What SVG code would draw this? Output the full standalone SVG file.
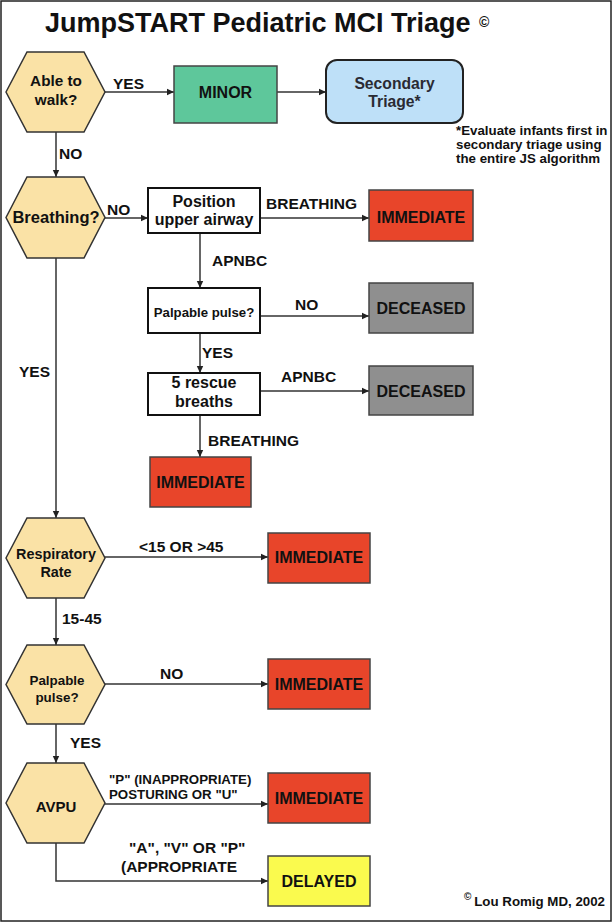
<svg xmlns="http://www.w3.org/2000/svg" width="613" height="923" viewBox="0 0 613 923">
<style>
text{font-family:"Liberation Sans",Arial,sans-serif;font-weight:bold;fill:#111;}
.c{text-anchor:middle;}
.hex{fill:#FAE2A6;stroke:#333;stroke-width:1.5;}
.box{stroke:#444;stroke-width:1.5;}
.wb{fill:#fff;stroke:#111;stroke-width:2;}
.red{fill:#E8452A;}
.gray{fill:#8F8F8F;}
.t16{font-size:16px;}
.lbl{font-size:15.5px;}
.ln{fill:none;stroke:#333;stroke-width:1.5;}
</style>
<defs>
<marker id="ah" markerWidth="8" markerHeight="8" refX="7" refY="4" orient="auto" markerUnits="userSpaceOnUse">
<path d="M0,0.8 L7,4 L0,7.2 Z" fill="#222"/>
</marker>
</defs>
<rect x="1" y="1" width="610" height="920" fill="#fff" stroke="#222" stroke-width="1.5"/>
<text x="45" y="32" style="font-size:27px">JumpSTART Pediatric MCI Triage</text>
<text x="479" y="27" style="font-size:14px">©</text>

<g id="connectors">
<line class="ln" x1="105" y1="92" x2="174" y2="92" marker-end="url(#ah)"/>
<line class="ln" x1="277" y1="92" x2="326" y2="92" marker-end="url(#ah)"/>
<line class="ln" x1="56" y1="132" x2="56" y2="177" marker-end="url(#ah)"/>
<line class="ln" x1="105" y1="218" x2="148" y2="218" marker-end="url(#ah)"/>
<line class="ln" x1="260" y1="218" x2="369" y2="218" marker-end="url(#ah)"/>
<line class="ln" x1="200" y1="233" x2="200" y2="288" marker-end="url(#ah)"/>
<line class="ln" x1="260" y1="316" x2="369" y2="316" marker-end="url(#ah)"/>
<line class="ln" x1="200" y1="333" x2="200" y2="373" marker-end="url(#ah)"/>
<line class="ln" x1="260" y1="391" x2="369" y2="391" marker-end="url(#ah)"/>
<line class="ln" x1="200" y1="415" x2="200" y2="457" marker-end="url(#ah)"/>
<line class="ln" x1="56" y1="258" x2="56" y2="518" marker-end="url(#ah)"/>
<line class="ln" x1="105" y1="557" x2="268" y2="557" marker-end="url(#ah)"/>
<line class="ln" x1="56" y1="598" x2="56" y2="645" marker-end="url(#ah)"/>
<line class="ln" x1="105" y1="684" x2="268" y2="684" marker-end="url(#ah)"/>
<line class="ln" x1="56" y1="724" x2="56" y2="763" marker-end="url(#ah)"/>
<line class="ln" x1="105" y1="804" x2="268" y2="804" marker-end="url(#ah)"/>
<polyline class="ln" points="56,843 56,881 268,881" marker-end="url(#ah)"/>
<text class="lbl" x="113" y="89">YES</text>
<text class="lbl" x="59" y="159">NO</text>
<text class="lbl" x="107" y="215">NO</text>
<text class="lbl" x="266" y="209">BREATHING</text>
<text class="lbl" x="212" y="266">APNBC</text>
<text class="lbl" x="295" y="310">NO</text>
<text class="lbl" x="202" y="358">YES</text>
<text class="lbl" x="281" y="382">APNBC</text>
<text class="lbl" x="208" y="446">BREATHING</text>
<text class="lbl" x="19" y="377">YES</text>
<text class="lbl" x="139" y="552">&lt;15 OR &gt;45</text>
<text class="lbl" x="62" y="624">15-45</text>
<text class="lbl" x="160" y="679">NO</text>
<text class="lbl" x="70" y="748">YES</text>
<text x="109" y="784" style="font-size:13.3px">"P" (INAPPROPRIATE)</text>
<text x="109" y="799" style="font-size:13.3px">POSTURING OR "U"</text>
<text x="129" y="853" style="font-size:15.5px">"A", "V" OR "P"</text>
<text x="121" y="872" style="font-size:15.5px">(APPROPRIATE</text>
</g>

<g id="walk">
<polygon class="hex" points="6,92 27,52 84,52 105,92 84,132 27,132"/>
<text class="c" x="56" y="86" style="font-size:15.3px">Able to</text>
<text class="c" x="56" y="105" style="font-size:15.3px">walk?</text>
</g>
<g id="minor">
<rect class="box" x="174" y="66" width="103" height="57" fill="#5EC79B"/>
<text class="c t16" x="225.5" y="98">MINOR</text>
</g>
<g id="secondary">
<rect x="326" y="60" width="137" height="63" rx="11" fill="#BEE0F8" stroke="#222" stroke-width="2"/>
<text class="c" x="394.5" y="89" style="font-size:15.7px;fill:#2a2a33">Secondary</text>
<text class="c" x="394.5" y="107" style="font-size:15.7px;fill:#2a2a33">Triage*</text>
</g>
<g id="footnote">
<text x="456" y="135" style="font-size:13.3px">*Evaluate infants first in</text>
<text x="456" y="149" style="font-size:13.3px">secondary triage using</text>
<text x="456" y="163" style="font-size:13.3px">the entire JS algorithm</text>
</g>
<g id="breathing">
<polygon class="hex" points="6,217.5 27,177 84,177 105,217.5 84,258 27,258"/>
<text class="c" x="56" y="223" style="font-size:16.5px">Breathing?</text>
</g>
<g id="position">
<rect class="wb" x="148" y="188" width="112" height="45"/>
<text class="c t16" x="204" y="207">Position</text>
<text class="c t16" x="204" y="225">upper airway</text>
</g>
<g id="imm1">
<rect class="box red" x="369" y="190" width="104" height="51"/>
<text class="c t16" x="421" y="223">IMMEDIATE</text>
</g>
<g id="pulse1">
<rect class="wb" x="148" y="288" width="112" height="45"/>
<text class="c" x="204" y="317" style="font-size:13.2px">Palpable pulse?</text>
</g>
<g id="dec1">
<rect class="box gray" x="369" y="283" width="104" height="50"/>
<text class="c t16" x="421" y="314">DECEASED</text>
</g>
<g id="rescue">
<rect class="wb" x="148" y="373" width="112" height="42"/>
<text class="c t16" x="204" y="388">5 rescue</text>
<text class="c t16" x="204" y="407">breaths</text>
</g>
<g id="dec2">
<rect class="box gray" x="369" y="366" width="104" height="49"/>
<text class="c t16" x="421" y="397">DECEASED</text>
</g>
<g id="imm2">
<rect class="box red" x="150" y="457" width="101" height="50"/>
<text class="c t16" x="200.5" y="488">IMMEDIATE</text>
</g>
<g id="resp">
<polygon class="hex" points="6,558 27,518 84,518 105,558 84,598 27,598"/>
<text class="c" x="56" y="559" style="font-size:14.4px">Respiratory</text>
<text class="c" x="56" y="577" style="font-size:14.4px">Rate</text>
</g>
<g id="imm3">
<rect class="box red" x="268" y="533" width="102" height="50"/>
<text class="c t16" x="319" y="563">IMMEDIATE</text>
</g>
<g id="pulse2">
<polygon class="hex" points="6,684.5 27,645 84,645 105,684.5 84,724 27,724"/>
<text class="c" x="57" y="685" style="font-size:13.4px">Palpable</text>
<text class="c" x="57" y="702" style="font-size:13.4px">pulse?</text>
</g>
<g id="imm4">
<rect class="box red" x="268" y="659" width="102" height="50"/>
<text class="c t16" x="319" y="690">IMMEDIATE</text>
</g>
<g id="avpu">
<polygon class="hex" points="6,803 27,763 84,763 105,803 84,843 27,843"/>
<text class="c" x="56" y="812" style="font-size:15px">AVPU</text>
</g>
<g id="imm5">
<rect class="box red" x="268" y="773" width="102" height="50"/>
<text class="c t16" x="319" y="804">IMMEDIATE</text>
</g>
<g id="delayed">
<rect class="box" x="268" y="856" width="102" height="50" fill="#FAFA4E"/>
<text class="c t16" x="319" y="887">DELAYED</text>
</g>
<g id="credit">
<text x="464" y="900" style="font-size:10px">©</text>
<text x="605" y="906" style="font-size:13.3px;text-anchor:end">Lou Romig MD, 2002</text>
</g>
</svg>
